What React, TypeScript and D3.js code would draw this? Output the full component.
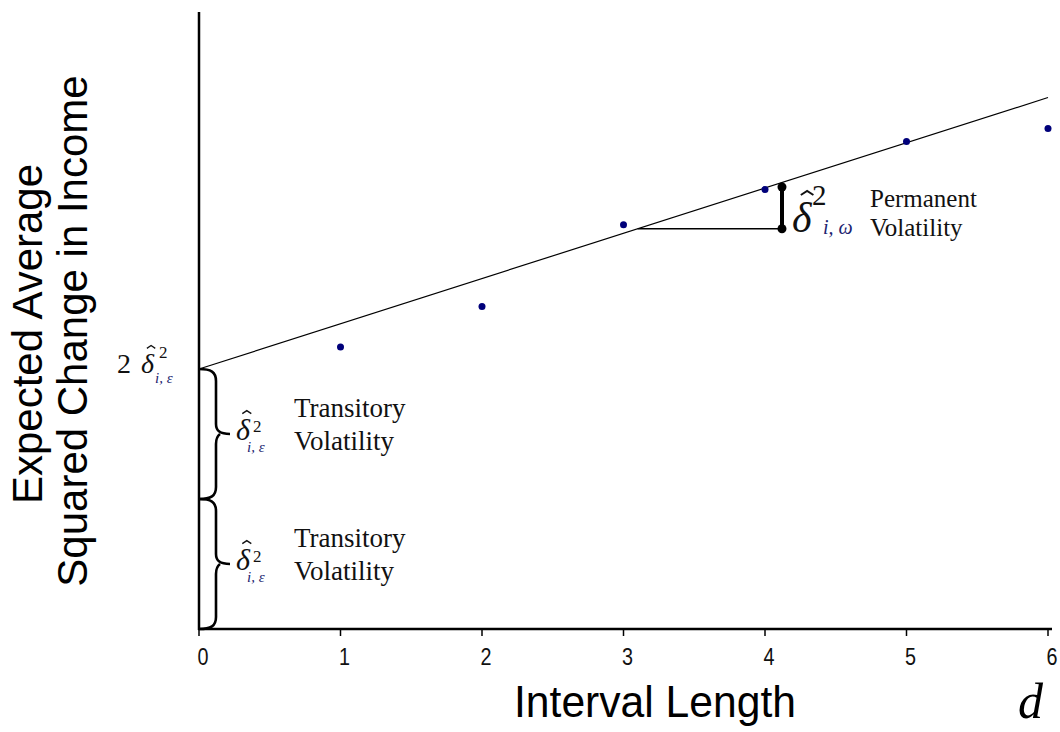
import React from "react";
import * as d3 from "d3";

// interval lengths on the x axis
const intervalTicks = [0, 1, 2, 3, 4, 5, 6];

// observed average squared change, in units of the transitory variance
const observedD = [1, 2, 3, 4, 5, 6];
const observedValue = [2.17, 2.48, 3.11, 3.38, 3.75, 3.85];

// fitted line: intercept = 2 * transitory, slope = permanent
const transitoryVar = 1;
const permanentSlope = 0.348;
const fitRange = [0, 6];

// brace segments on the y axis (value ranges)
const braceRanges = [
  [2, 1],
  [1, 0],
];

// permanent volatility bracket
const bracketFrom = 3.1;
const bracketTo = 4.12;
const bracketTop = 3.4;

const W = 1060;
const H = 732;
const SERIF = "'Liberation Serif', 'Times New Roman', serif";
const SANS = "'Liberation Sans', Arial, sans-serif";
const SUB = "#1c2470";

const x = d3.scaleLinear().domain([0, 6]).range([199, 1048]);
const y = d3.scaleLinear().domain([0, 4.746]).range([629, 12]);

const fit = (d) => 2 * transitoryVar + permanentSlope * d;

// curly brace between two y pixel positions, bulging right
function bracePath(x0, yTop, yBot) {
  const w = 17;
  const tip = 31;
  const mid = (yTop + yBot) / 2;
  return (
    `M${x0},${yTop} C${x0 + 12},${yTop} ${x0 + w},${yTop + 3} ${x0 + w},${yTop + 12} ` +
    `L${x0 + w},${mid - 10} C${x0 + w},${mid - 3} ${x0 + w + 4},${mid} ${x0 + tip},${mid} ` +
    `M${x0 + w + 4},${mid} C${x0 + w + 4},${mid} ${x0 + w},${mid + 3} ${x0 + w},${mid + 10} ` +
    `L${x0 + w},${yBot - 12} C${x0 + w},${yBot - 3} ${x0 + 12},${yBot} ${x0},${yBot}`
  );
}

// delta-hat squared with subscript
const DeltaHat = ({ x0, base, size, sub, sup }) => {
  const hx = x0 + size * 0.36;
  const hy = base - size * 0.98;
  const hw = size * 0.15;
  return (
    <g>
      <text x={x0} y={base} fontFamily={SERIF} fontStyle="italic" fontSize={size} fill="#111">
        δ
      </text>
      <path
        d={`M${hx - hw},${hy + size * 0.1} L${hx},${hy} L${hx + hw},${hy + size * 0.1}`}
        fill="none"
        stroke="#111"
        strokeWidth={size / 22}
      />
      <text x={sup.x} y={sup.y} fontFamily={SERIF} fontSize={sup.size} fill="#111">
        2
      </text>
      <text x={sub.x} y={sub.y} fontFamily={SERIF} fontStyle="italic" fontSize={sub.size} fill={SUB}>
        {sub.text}
      </text>
    </g>
  );
};

export default function App() {
  const line = d3
    .line()
    .x((d) => x(d))
    .y((d) => y(fit(d)));

  const bLow = fit(bracketFrom);

  return (
    <svg
      width={W}
      height={H}
      style={{ position: "absolute", left: 0, top: 0, display: "block", background: "#fff" }}
    >
      {/* fitted line */}
      <path d={line(fitRange)} fill="none" stroke="#000" strokeWidth={1.2} />

      {/* observed points */}
      {observedD.map((d, i) => (
        <circle key={d} cx={x(d)} cy={y(observedValue[i])} r={3.5} fill="#00007a" />
      ))}

      {/* axes */}
      <line x1={x(0)} x2={x(0)} y1={y.range()[1]} y2={y(0) + 1} stroke="#000" strokeWidth={2.5} />
      <line x1={x(0) - 1} x2={1052} y1={y(0)} y2={y(0)} stroke="#000" strokeWidth={2.5} />
      {intervalTicks.map((t) => (
        <g key={t}>
          <line x1={x(t)} x2={x(t)} y1={y(0)} y2={y(0) + 7} stroke="#000" strokeWidth={1.5} />
          <text
            x={x(t) + 4}
            y={665}
            textAnchor="middle"
            fontFamily={SANS}
            fontSize={23}
            fill="#111"
            textLength={11}
            lengthAdjust="spacingAndGlyphs"
          >
            {t}
          </text>
        </g>
      ))}

      {/* axis titles */}
      <text
        x={514}
        y={717}
        fontFamily={SANS}
        fontSize={44}
        fill="#000"
        textLength={282}
        lengthAdjust="spacingAndGlyphs"
      >
        Interval Length
      </text>
      <text x={1018} y={718} fontFamily={SERIF} fontStyle="italic" fontSize={50} fill="#000">
        d
      </text>
      <g transform="translate(42,334) rotate(-90)">
        <text textAnchor="middle" fontFamily={SANS} fontSize={42} fill="#000">
          Expected Average
        </text>
      </g>
      <g transform="translate(87,331) rotate(-90)">
        <text textAnchor="middle" fontFamily={SANS} fontSize={42} fill="#000">
          Squared Change in Income
        </text>
      </g>

      {/* intercept label */}
      <text x={117} y={373} fontFamily={SERIF} fontSize={28} fill="#111">
        2
      </text>
      <DeltaHat
        x0={141}
        base={373}
        size={28}
        sup={{ x: 159, y: 358, size: 17 }}
        sub={{ x: 155, y: 383, size: 15, text: "i, ε" }}
      />

      {/* transitory braces */}
      {braceRanges.map(([a, b], i) => {
        const yt = y(a);
        const yb = y(b);
        const mid = (yt + yb) / 2;
        return (
          <g key={i}>
            <path d={bracePath(x(0), yt, yb)} fill="none" stroke="#000" strokeWidth={2.6} />
            <DeltaHat
              x0={236}
              base={mid + 6}
              size={30}
              sup={{ x: 253, y: mid - 2, size: 17 }}
              sub={{ x: 247, y: mid + 18, size: 15, text: "i, ε" }}
            />
            <text x={294} y={mid - 17} fontFamily={SERIF} fontSize={27} fill="#111">
              Transitory
            </text>
            <text x={294} y={mid + 16} fontFamily={SERIF} fontSize={27} fill="#111">
              Volatility
            </text>
          </g>
        );
      })}

      {/* permanent volatility bracket */}
      <line
        x1={x(bracketFrom)}
        x2={x(bracketTo)}
        y1={y(bLow)}
        y2={y(bLow)}
        stroke="#000"
        strokeWidth={1.5}
      />
      <line
        x1={x(bracketTo)}
        x2={x(bracketTo)}
        y1={y(bLow)}
        y2={y(bracketTop)}
        stroke="#000"
        strokeWidth={4}
      />
      {[bLow, bracketTop].map((v, i) => (
        <circle key={i} cx={x(bracketTo)} cy={y(v)} r={4.5} fill="#000" />
      ))}
      <DeltaHat
        x0={792}
        base={232}
        size={42}
        sup={{ x: 812, y: 205, size: 29 }}
        sub={{ x: 823, y: 234, size: 20, text: "i, ω" }}
      />
      <text x={870} y={207} fontFamily={SERIF} fontSize={25} fill="#111">
        Permanent
      </text>
      <text x={870} y={236} fontFamily={SERIF} fontSize={25} fill="#111">
        Volatility
      </text>
    </svg>
  );
}
